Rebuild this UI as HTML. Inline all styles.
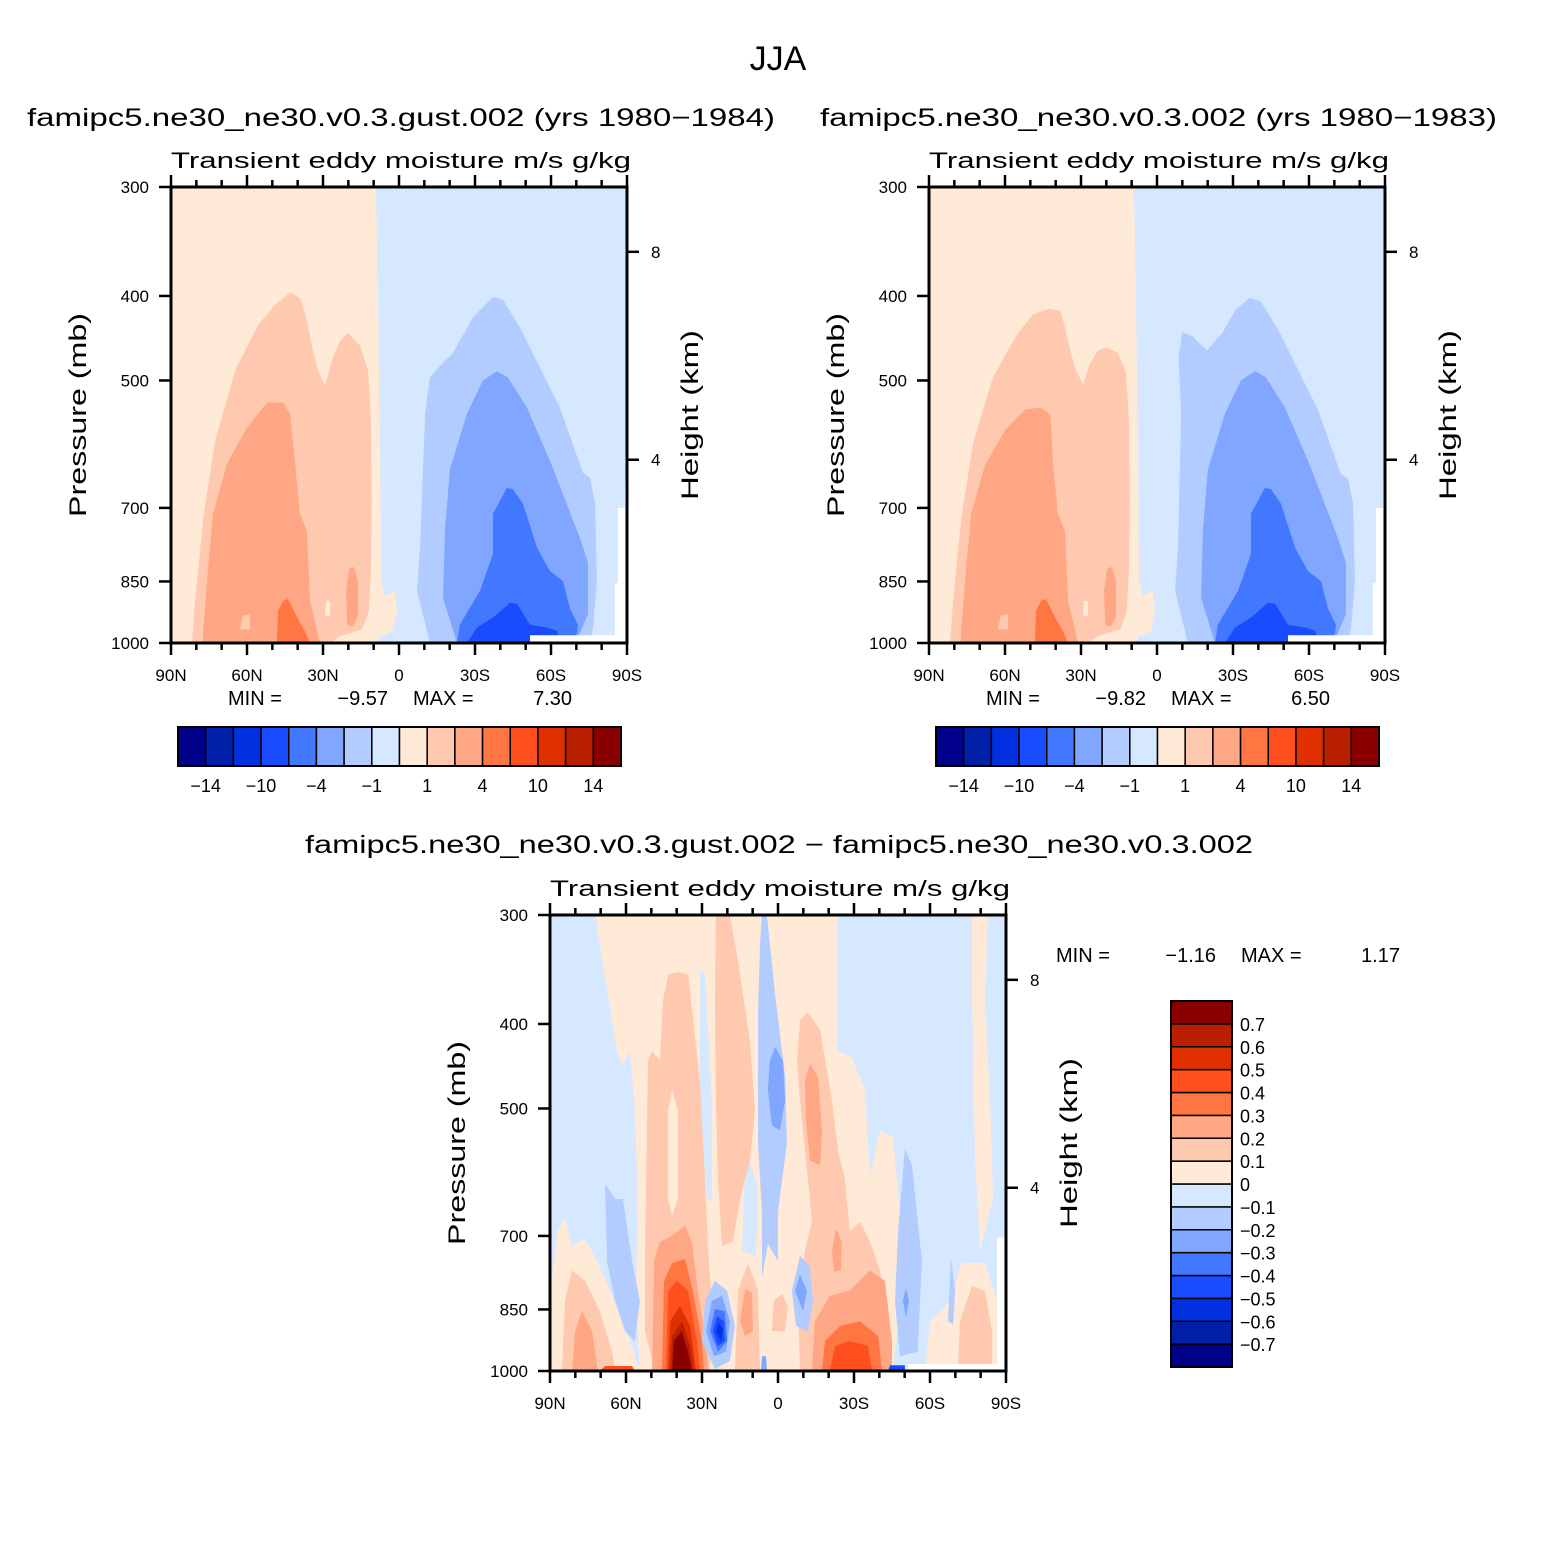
<!DOCTYPE html>
<html><head><meta charset="utf-8"><title>JJA transient eddy moisture</title>
<style>
html,body{margin:0;padding:0;background:#fff;}
svg{display:block;font-family:"Liberation Sans",sans-serif;}
</style></head>
<body>
<svg id="fig" xmlns="http://www.w3.org/2000/svg" width="1558" height="1558" viewBox="0 0 1558 1558">
<rect x="0" y="0" width="1558" height="1558" fill="#fff"/>
<text x="778" y="70" font-size="34" text-anchor="middle">JJA</text>
<text x="27" y="126" font-size="25" textLength="748" lengthAdjust="spacingAndGlyphs">famipc5.ne30_ne30.v0.3.gust.002 (yrs 1980−1984)</text>
<text x="820" y="126" font-size="25" textLength="677" lengthAdjust="spacingAndGlyphs">famipc5.ne30_ne30.v0.3.002 (yrs 1980−1983)</text>
<text x="305" y="853" font-size="25" textLength="948" lengthAdjust="spacingAndGlyphs">famipc5.ne30_ne30.v0.3.gust.002 − famipc5.ne30_ne30.v0.3.002</text>
<g id="panels"></g>
</svg>
<script>
// ---------- colour levels ----------
const levelsAbs = [-14,-12,-10,-7,-4,-2,-1,0,1,2,4,7,10,12,14];
const levelsDiff = [-0.7,-0.6,-0.5,-0.4,-0.3,-0.2,-0.1,0,0.1,0.2,0.3,0.4,0.5,0.6,0.7];
const levelColors = ['#00008A','#0020A8','#0030E0','#1A4CFF','#4277FF','#80A6FF','#B3CCFF','#D6E8FF','#FFEAD7','#FFC9B0','#FFA784','#FF7642','#FF4F1E','#E03000','#B82000','#8A0000'];
const absLabels = ['−14','−10','−4','−1','1','4','10','14'];
const diffLabels = ['−0.7','−0.6','−0.5','−0.4','−0.3','−0.2','−0.1','0','0.1','0.2','0.3','0.4','0.5','0.6','0.7'];
const latTicksMajor = [90,60,30,0,-30,-60,-90];
const latTickLabels = ['90N','60N','30N','0','30S','60S','90S'];
const latTicksMinor = [80,70,50,40,20,10,-10,-20,-40,-50,-70,-80];
const presTicks = [300,400,500,700,850,1000];
const heightTicks = [8,4];

// ---------- panel 1 contour regions [lat, pressure] ----------
const fullArea = [[90,300],[-90,300],[-90,1000],[90,1000]];
const p1Positive = [[90,300],[9.1,300],[8.3,404],[7.5,601],[7.1,849],[5.5,883],[1.6,871],[0.8,920],[2.4,970],[7.5,982],[7.5,1000],[90,1000]];
const p1Peach = [[81.7,1000],[80.5,895],[77.4,724],[72.6,586],[64.7,487],[55.7,432],[49,410],[43,396],[39.1,402],[36.3,427],[34,462],[32,487],[29.2,507],[26.5,474],[23.3,450],[20.1,441],[15.4,456],[12.2,487],[11.1,556],[10.7,687],[11.1,827],[11.9,920],[14.6,965],[23.3,982],[27.2,1000]];
const p1Salmon = [[77.4,1000],[77.4,975],[75.8,849],[73.4,711],[67.9,623],[60,566],[52.1,530],[45.8,530],[43,546],[41,623],[39.1,711],[36.3,744],[35.1,895],[31.2,1000]];
const p1SalmonBlob = [[20.5,953],[20.9,871],[19.7,822],[17.8,818],[16.2,849],[16.2,931],[18.2,958]];
const p1PeachBlob = [[62.8,965],[61.6,930],[58.8,928],[58.8,965]];
const p1LightBlob = [[29.2,931],[28.8,895],[27.2,895],[27.2,931]];
const p1Orange = [[48.2,1000],[47.8,920],[45.8,895],[43.8,890],[41,925],[37.1,970],[35.1,1000]];
const p1Blue1 = [[-12.2,1000],[-7.1,871],[-8.3,778],[-10.3,546],[-12.2,496],[-17.4,477],[-21.3,465],[-29.2,423],[-37.1,401],[-41,404],[-47.8,435],[-63.5,537],[-72.6,638],[-75.4,646],[-77.4,692],[-78.1,849],[-76.6,960],[-75.4,1000]];
const p1Blue2 = [[-22.9,1000],[-17.4,888],[-18.1,744],[-20.1,632],[-26.8,546],[-33.1,500],[-38.7,488],[-43,496],[-50.5,537],[-59.6,618],[-67.5,708],[-71.4,758],[-74.6,809],[-74.6,926],[-71.4,975],[-68.7,1000]];
const p1Blue3 = [[-22.9,1000],[-24,953],[-32,871],[-37.1,790],[-37.1,711],[-42.6,664],[-45,666],[-48.9,692],[-54.5,778],[-59.6,827],[-64.7,849],[-67.5,913],[-70.6,953],[-70.3,975],[-67.5,1000]];
const p1Blue4 = [[-26.8,1000],[-30.8,960],[-37.1,935],[-43.8,899],[-46.6,902],[-51.7,953],[-58.4,960],[-62.4,968],[-63.5,1000]];
const p1Mask = [[-90,652],[-89.2,652],[-89.2,700],[-86.4,700],[-86.4,854],[-85.2,854],[-85.2,980],[-51.7,980],[-51.7,1000],[-90,1000]];

// ---------- panel 2 contour regions ----------
const p2Peach = [[81.7,1000],[80.5,895],[77.4,724],[72.6,590],[64.7,495],[55.7,445],[49,420],[43,414],[38,416],[36.3,435],[34,465],[32,487],[29.2,505],[26.5,478],[23.3,462],[20.1,458],[15.4,465],[12.2,490],[11.1,556],[10.7,687],[11.1,827],[11.9,920],[14.6,965],[23.3,982],[27.2,1000]];
const p2Salmon = [[77.4,1000],[77.4,975],[75.8,849],[73.4,711],[67.9,625],[60,570],[52.1,540],[45.8,537],[42,548],[41,623],[39.1,711],[36.3,744],[35.1,895],[31.2,1000]];
const p2Blue1 = [[-12.2,1000],[-7.1,871],[-8.3,778],[-9.5,546],[-8.5,470],[-10,440],[-14,445],[-19.7,462],[-26,440],[-31,415],[-36.7,402],[-41,406],[-47.8,437],[-63.5,540],[-72.6,640],[-75.4,648],[-77.4,692],[-78.1,849],[-76.6,960],[-75.4,1000]];

// ---------- panel 3 (difference) contour regions ----------
const d3PosMain = [[72.2,300],[-23.7,300],[-23.7,429],[-29.2,437],[-34.3,476],[-36.3,597],[-40.3,530],[-45.4,540],[-48.1,656],[-49.3,778],[-45.4,1000],[54.5,1000],[56.1,831],[55.3,635],[56.5,503],[58.4,429],[61.6,446],[63.6,429],[68.3,353]];
const d3PosLeft = [[89.6,1000],[89.6,809],[87.2,691],[84.1,667],[81.3,719],[76.2,705],[71.1,752],[66.3,809],[58.4,924],[54.5,1000]];
const d3PosRightStrip = [[-76.6,300],[-82.9,300],[-81.7,376],[-83.7,490],[-84.9,635],[-79.7,728],[-77.7,559],[-76.6,376]];
const d3PosRightLow = [[-58,1000],[-60,877],[-67.9,831],[-72.6,752],[-81.7,752],[-86.4,831],[-86.4,1000]];
const d3NegLeftStrip = [[68.3,610],[64.3,635],[61.2,635],[57.6,748],[54.5,831],[56.5,924],[60.4,900],[64.3,831],[67.5,748]];
const d3NegCenterStrip = [[6.3,300],[4.4,300],[1.2,369],[-2.8,460],[-3.5,548],[0,656],[0,748],[4,715],[6.3,782],[6.3,656],[7.9,548],[7.9,386],[7.1,323]];
const d3Gap1 = [[30.8,347],[28.8,351],[26.1,490],[26.1,640],[28,635],[30.8,490]];
const d3Gap2 = [[14.2,728],[13,589],[11.1,578],[7.9,616],[8.7,738]];
const d3NegRightStrip = [[-47.4,691],[-50.1,556],[-52.9,581],[-56.8,748],[-55.2,950],[-48.1,962],[-46.2,831]];
const d3NegSmallStrip = [[-67.1,877],[-68.3,742],[-69.9,809],[-69.1,884]];
const d3Peach1 = [[51.3,441],[49.7,429],[46.6,441],[45.4,376],[43.4,351],[39.5,349],[35.5,351],[30.8,465],[28.8,602],[27.6,728],[26.1,831],[26.8,1000],[48.6,1000],[52.5,900],[52.5,728]];
const d3Peach1Gap = [[43.4,503],[41.8,476],[39.5,503],[39.5,635],[41.8,664],[43.4,635]];
const d3Peach2 = [[24.5,300],[19,300],[15.8,338],[11.1,418],[9.1,503],[11.1,574],[15,635],[17.8,711],[22.1,719],[23.7,602],[24.5,490],[24.9,376]];
const d3Peach3 = [[-8.7,396],[-11.8,388],[-16.6,406],[-21.3,490],[-23.7,559],[-26.4,602],[-28.4,691],[-32.4,674],[-36.3,711],[-40.3,767],[-43.4,877],[-44.2,1000],[-8.7,1000],[-7.9,831],[-10.6,728],[-13.4,674],[-11.8,602],[-8.7,490],[-7.5,441]];
const d3Salmon3a = [[-10.6,465],[-12.6,444],[-15.8,460],[-17.4,530],[-16.6,581],[-12.6,574],[-11,516]];
const d3Salmon3b = [[-21.3,728],[-22.9,687],[-25.2,711],[-24.8,767],[-22.1,770]];
const d3Salmon3c = [[-13.4,1000],[-14.6,877],[-20.5,820],[-28.4,809],[-36.3,767],[-42.2,788],[-45,924],[-45,1000]];
const d3Orange3 = [[-17.4,1000],[-18.5,924],[-24.5,888],[-32.4,877],[-39.5,912],[-41,1000]];
const d3Red3 = [[-20.5,1000],[-22.5,936],[-28.4,924],[-35.5,936],[-37.1,1000]];
const d3PeachLeft = [[85.3,1000],[84.1,831],[81.3,767],[76.2,788],[70.3,854],[65.5,950],[64.3,1000]];
const d3SalmonLeft = [[81.3,1000],[80.1,900],[77.4,854],[73.4,900],[71.1,1000]];
const d3RedLineLeft = [[70.3,1000],[68.3,987],[57.6,987],[56.5,1000]];
const d3Peach4 = [[17,1000],[15.8,809],[11.9,752],[7.9,809],[7.1,1000]];
const d3Salmon4 = [[15,877],[13,805],[10.3,813],[9.9,900],[13,912]];
const d3Peach5 = [[2.4,900],[1.6,831],[-1.6,816],[-3.9,843],[-2.8,900]];
const d3NegLowBlob = [[-5.5,809],[-8.7,738],[-12.6,758],[-13.8,831],[-11.8,900],[-7.1,888]];
const d3PeachRight = [[-71,1000],[-71.8,877],[-76.6,799],[-81.7,809],[-84.5,900],[-84.5,1000]];
const d3Neg2a = [[3.2,441],[1.2,425],[-2,441],[-2.8,490],[-0.8,530],[2.4,523],[4,476]];
const d3Neg2b = [[-6.7,809],[-8.7,775],[-11.4,809],[-9.9,854]];
const d3Neg2c = [[-49.3,831],[-50.5,803],[-51.7,831],[-50.5,869]];
const d3Core1 = [[49.7,1000],[48.9,748],[46.6,711],[41.8,700],[36.7,681],[34,711],[31.6,809],[28.4,924],[27.6,1000]];
const d3Core2 = [[45.8,1000],[45,788],[41.8,752],[36.7,744],[33.6,809],[30,924],[29.2,1000]];
const d3Core3 = [[44.2,1000],[43.4,809],[39.9,788],[35.5,809],[32,924],[30.8,1000]];
const d3Core4 = [[43.4,1000],[42.6,877],[38.7,843],[34.7,888],[32.4,1000]];
const d3Core5 = [[42.6,1000],[41.8,912],[37.9,877],[34.7,936],[33.2,1000]];
const d3Core6 = [[41.8,1000],[41.1,924],[37.9,900],[35.1,962],[34,1000]];
const d3Blue1 = [[30,924],[28.8,831],[24.9,788],[20.1,809],[17,888],[19,974],[24.9,995]];
const d3Blue2 = [[28.4,900],[26.1,831],[22.1,820],[19,877],[20.5,950],[25.3,962]];
const d3Blue3 = [[26.8,900],[24.9,849],[21,854],[20.1,924],[23.7,950]];
const d3Blue4 = [[25.7,900],[24.1,865],[21.3,877],[21,924],[23.7,936]];
const d3Blue5 = [[24.5,900],[23.3,881],[21.7,895],[22.5,924]];
const d3EqBlue = [[6.7,1000],[6.3,962],[4.7,962],[4.4,1000]];
const d3SouthPatch = [[-43.4,1000],[-44.2,985],[-50.1,985],[-50.1,1000]];
const d3Mask = [[-86.4,703],[-90,703],[-90,1000],[-51.3,1000],[-51.3,982],[-86.4,982]];

const panel1Layers = [
  ['area-negative',-0.5,fullArea],['area-positive',0.5,p1Positive],['contour-1-2',1.5,p1Peach],['contour-2-4',3,p1Salmon],
  ['contour-2-4-blob',3,p1SalmonBlob],['contour-1-2-blob',1.5,p1PeachBlob],['contour-0-1-blob',0.5,p1LightBlob],['contour-4-7',5,p1Orange],
  ['contour-neg-1-2',-1.5,p1Blue1],['contour-neg-2-4',-3,p1Blue2],['contour-neg-4-7',-5,p1Blue3],['contour-neg-7-10',-8,p1Blue4],['missing-mask',null,p1Mask]];
const panel2Layers = [
  ['area-negative',-0.5,fullArea],['area-positive',0.5,p1Positive],['contour-1-2',1.5,p2Peach],['contour-2-4',3,p2Salmon],
  ['contour-2-4-blob',3,p1SalmonBlob],['contour-1-2-blob',1.5,p1PeachBlob],['contour-0-1-blob',0.5,p1LightBlob],['contour-4-7',5,p1Orange],
  ['contour-neg-1-2',-1.5,p2Blue1],['contour-neg-2-4',-3,p1Blue2],['contour-neg-4-7',-5,p1Blue3],['contour-neg-7-10',-8,p1Blue4],['missing-mask',null,p1Mask]];
const panel3Layers = [
  ['area-negative',-0.05,fullArea],['pos-main',0.05,d3PosMain],['pos-left',0.05,d3PosLeft],['pos-right-strip',0.05,d3PosRightStrip],['pos-right-low',0.05,d3PosRightLow],
  ['neg-left-strip',-0.15,d3NegLeftStrip],['neg-center-strip',-0.15,d3NegCenterStrip],['gap-1',-0.05,d3Gap1],['gap-2',-0.05,d3Gap2],
  ['neg-right-strip',-0.15,d3NegRightStrip],['neg-small-strip',-0.15,d3NegSmallStrip],
  ['peach-1',0.15,d3Peach1],['peach-1-gap',0.05,d3Peach1Gap],['peach-2',0.15,d3Peach2],['peach-3',0.15,d3Peach3],
  ['salmon-3a',0.25,d3Salmon3a],['salmon-3b',0.25,d3Salmon3b],['salmon-3c',0.25,d3Salmon3c],['orange-3',0.35,d3Orange3],['red-3',0.45,d3Red3],
  ['peach-left',0.15,d3PeachLeft],['salmon-left',0.25,d3SalmonLeft],['red-line-left',0.45,d3RedLineLeft],
  ['peach-4',0.15,d3Peach4],['salmon-4',0.25,d3Salmon4],['peach-5',0.15,d3Peach5],['neg-low-blob',-0.15,d3NegLowBlob],['peach-right',0.15,d3PeachRight],
  ['neg2-a',-0.25,d3Neg2a],['neg2-b',-0.25,d3Neg2b],['neg2-c',-0.25,d3Neg2c],
  ['core-1',0.25,d3Core1],['core-2',0.35,d3Core2],['core-3',0.45,d3Core3],['core-4',0.55,d3Core4],['core-5',0.65,d3Core5],['core-6',0.75,d3Core6],
  ['blue-core-1',-0.15,d3Blue1],['blue-core-2',-0.25,d3Blue2],['blue-core-3',-0.35,d3Blue3],['blue-core-4',-0.45,d3Blue4],['blue-core-5',-0.55,d3Blue5],
  ['eq-blue',-0.25,d3EqBlue],['south-patch',-0.45,d3SouthPatch],['missing-mask',null,d3Mask]];

// ---------- rendering ----------
const NS='http://www.w3.org/2000/svg';
const root=document.getElementById('panels');
const PW=456, PH=456;
function el(tag,attrs,parent){const e=document.createElementNS(NS,tag);for(const k in attrs)e.setAttribute(k,attrs[k]);(parent||root).appendChild(e);return e;}
function colorFor(v,levels){if(v===null)return '#ffffff';let i=0;while(i<levels.length&&v>levels[i])i++;return levelColors[i];}
function hToP(z){return 1013.25*Math.pow(1-2.25577e-5*z*1000,5.25588);}

function drawPanel(id,x0,y0,layers,levels){
  const xs=lat=>x0+(90-lat)/180*PW;
  const ys=p=>y0+Math.log(p/300)/Math.log(1000/300)*PH;
  const g=el('g',{});
  
  
  const cp=el('clipPath',{id:id+'-clip'},g);
  el('rect',{x:x0,y:y0,width:PW,height:PH},cp);
  const cg=el('g',{'clip-path':'url(#'+id+'-clip)'},g);
  
  
  layers.forEach(L=>{
    const d=L[2].map((q,i)=>(i?'L':'M')+xs(q[0]).toFixed(1)+','+ys(q[1]).toFixed(1)).join('')+'Z';
    const path=el('path',{d:d,fill:colorFor(L[1],levels)},cg);
    
    
  });
  const frame=el('rect',{x:x0,y:y0,width:PW,height:PH,fill:'none',stroke:'#000','stroke-width':3},g);
  
  
  const ax=el('g',{stroke:'#000','stroke-width':2.5},g);
  
  
  latTicksMajor.forEach(l=>{const x=xs(l);el('line',{x1:x,x2:x,y1:y0+PH,y2:y0+PH+12},ax);el('line',{x1:x,x2:x,y1:y0,y2:y0-12},ax);});
  latTicksMinor.forEach(l=>{const x=xs(l);el('line',{x1:x,x2:x,y1:y0+PH,y2:y0+PH+7},ax);el('line',{x1:x,x2:x,y1:y0,y2:y0-7},ax);});
  presTicks.forEach(p=>{const y=ys(p);el('line',{x1:x0,x2:x0-12,y1:y,y2:y},ax);});
  heightTicks.forEach(z=>{const y=ys(hToP(z));el('line',{x1:x0+PW,x2:x0+PW+12,y1:y,y2:y},ax);});
  latTicksMajor.forEach((l,i)=>{const t=el('text',{x:xs(l),y:y0+PH+38,'font-size':17,'text-anchor':'middle'},g);t.textContent=latTickLabels[i];
    
    });
  presTicks.forEach(p=>{const t=el('text',{x:x0-22,y:ys(p)+6,'font-size':17,'text-anchor':'end'},g);t.textContent=String(p);
    
    });
  heightTicks.forEach(z=>{const t=el('text',{x:x0+PW+24,y:ys(hToP(z))+6,'font-size':17},g);t.textContent=String(z);
    
    });
  const st=el('text',{x:x0,y:y0-19,'font-size':22,textLength:460,lengthAdjust:'spacingAndGlyphs'},g);
  st.textContent='Transient eddy moisture m/s  g/kg';
  
  
  const yt=el('text',{x:0,y:0,'font-size':24,'text-anchor':'middle',transform:'translate('+(x0-85)+','+(y0+228)+') rotate(-90)',textLength:204,lengthAdjust:'spacingAndGlyphs'},g);
  yt.textContent='Pressure (mb)';
  
  
  const ht=el('text',{x:0,y:0,'font-size':24,'text-anchor':'middle',transform:'translate('+(x0+PW+71)+','+(y0+228)+') rotate(-90)',textLength:170,lengthAdjust:'spacingAndGlyphs'},g);
  ht.textContent='Height (km)';
  
  
}

function hColorbar(id,x0,y0,w,h){
  const g=el('g',{});
  
  
  const bw=w/levelColors.length;
  levelColors.forEach((c,i)=>{const r=el('rect',{x:x0+i*bw,y:y0,width:bw,height:h,fill:c,stroke:'#000','stroke-width':1.5},g);
    
    });
  el('rect',{x:x0,y:y0,width:w,height:h,fill:'none',stroke:'#000','stroke-width':2},g);
  absLabels.forEach((s,i)=>{const t=el('text',{x:x0+(1+2*i)*bw,y:y0+h+26,'font-size':18,'text-anchor':'middle'},g);t.textContent=s;
    
    });
}
function vColorbar(id,x0,y0,w,h){
  const g=el('g',{});
  
  
  const bh=h/levelColors.length;
  levelColors.forEach((c,i)=>{const r=el('rect',{x:x0,y:y0+h-(i+1)*bh,width:w,height:bh,fill:c,stroke:'#000','stroke-width':1.5},g);
    
    });
  el('rect',{x:x0,y:y0,width:w,height:h,fill:'none',stroke:'#000','stroke-width':2},g);
  diffLabels.forEach((s,i)=>{const t=el('text',{x:x0+w+8,y:y0+h-(i+1)*bh+7,'font-size':18},g);t.textContent=s;
    
    });
}
function minmax(name,x,y,minv,maxv){
  const g=el('g',{'font-size':20});
  
  
  const parts=[['MIN =',x,'start'],[minv,x+160,'end'],['MAX =',x+185,'start'],[maxv,x+344,'end']];
  parts.forEach(q=>{const t=el('text',{x:q[1],y:y,'text-anchor':q[2]},g);t.textContent=q[0];
    
    });
}

drawPanel('panel-gust',171,187,panel1Layers,levelsAbs);
drawPanel('panel-control',929,187,panel2Layers,levelsAbs);
drawPanel('panel-difference',550,915,panel3Layers,levelsDiff);
minmax('panel1-minmax',228,705,'−9.57','7.30');
minmax('panel2-minmax',986,705,'−9.82','6.50');
minmax('panel3-minmax',1056,962,'−1.16','1.17');
hColorbar('panel1-colorbar',178,727,443,39);
hColorbar('panel2-colorbar',936,727,443,39);
vColorbar('panel3-colorbar',1171,1001,61,366);
</script>
</body></html>
